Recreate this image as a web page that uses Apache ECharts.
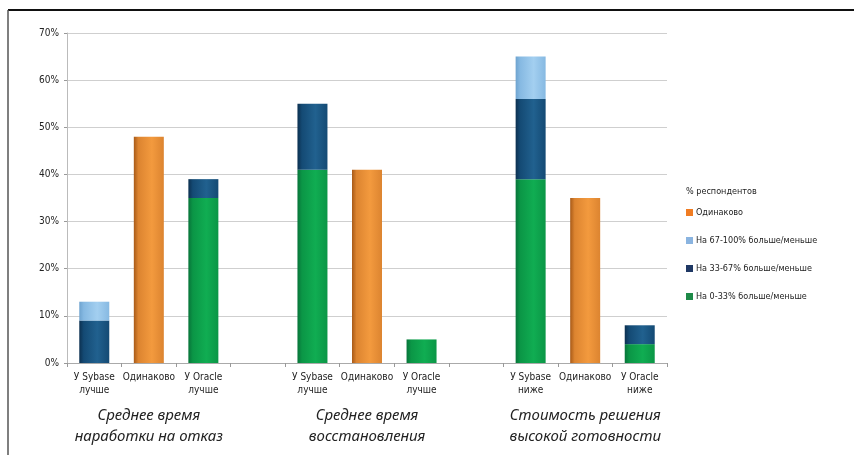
<!DOCTYPE html>
<html>
<head>
<meta charset="utf-8">
<script src="https://cdn.jsdelivr.net/npm/echarts@6/dist/echarts.min.js"></script>
<style>
  html, body { margin: 0; padding: 0; background: #fff; }
  #main { width: 854px; height: 455px; }
</style>
</head>
<body>
<div id="main"></div>
<script>
// категории (пустые — промежутки между группами)
var categories = ['У Sybase\nлучше', 'Одинаково', 'У Oracle\nлучше', '',
  'У Sybase\nлучше', 'Одинаково', 'У Oracle\nлучше', '',
  'У Sybase\nниже', 'Одинаково', 'У Oracle\nниже']
var groupTitles = ['', 'Среднее время\nнаработки на отказ', '', '',
  '', 'Среднее время\nвосстановления', '', '',
  '', 'Стоимость решения\nвысокой готовности', '']
var yTicks = [0, 10, 20, 30, 40, 50, 60, 70]

// % респондентов
var same = [null, 48, null, null, null, 41, null, null, null, 35, null]
var pct67to100 = [4, null, null, null, null, null, null, null, 9, null, null]
var pct33to67 = [9, null, 4, null, 14, null, null, null, 17, null, 4]
var pct0to33 = [null, null, 35, null, 41, null, 5, null, 39, null, 4]

var fontMain = '"Liberation Sans Narrow", "DejaVu Sans Condensed", "Noto Sans", sans-serif'

function cyl(dark, mid, light) {
  return new echarts.graphic.LinearGradient(0, 0, 1, 0, [
    { offset: 0, color: dark },
    { offset: 0.15, color: mid },
    { offset: 0.6, color: light },
    { offset: 1, color: mid }
  ])
}

var myChart = echarts.init(document.getElementById('main'))
var option = {
  animation: false,
  backgroundColor: '#fff',
  title: {
    text: '% респондентов',
    left: 686,
    top: 187,
    padding: 0,
    textStyle: { fontSize: 9, fontWeight: 'normal', color: '#222', fontFamily: fontMain }
  },
  legend: {
    orient: 'vertical',
    left: 686,
    top: 208,
    padding: 0,
    itemWidth: 7,
    itemHeight: 7,
    itemGap: 19,
    icon: 'rect',
    textStyle: { fontSize: 9, color: '#222', fontFamily: fontMain, padding: [0, 0, 0, -2] },
    data: [
      { name: 'Одинаково', itemStyle: { color: '#F07C22' } },
      { name: 'На 67-100% больше/меньше', itemStyle: { color: '#8AB4E0' } },
      { name: 'На 33-67% больше/меньше', itemStyle: { color: '#1F3864' } },
      { name: 'На 0-33% больше/меньше', itemStyle: { color: '#1E8A48' } }
    ]
  },
  grid: { left: 67, right: 187, top: 33, bottom: 92 },
  xAxis: [
    {
      type: 'category',
      data: categories,
      axisLine: { lineStyle: { color: '#aaa' } },
      axisTick: { show: true, length: 4, lineStyle: { color: '#999' } },
      axisLabel: {
        interval: 0, margin: 8, fontSize: 10, lineHeight: 13, color: '#222', fontFamily: fontMain
      }
    },
    {
      type: 'category',
      position: 'bottom',
      offset: 34,
      data: groupTitles,
      axisLine: { show: false },
      axisTick: { show: false },
      axisLabel: {
        interval: 0, margin: 8, fontSize: 15, lineHeight: 21, fontStyle: 'italic',
        color: '#222', fontFamily: '"Noto Sans", "Open Sans", sans-serif'
      }
    }
  ],
  yAxis: {
    type: 'value',
    min: yTicks[0],
    max: yTicks[yTicks.length - 1],
    interval: 10,
    axisLine: { show: true, lineStyle: { color: '#bbb' } },
    axisTick: { show: true, length: 3, lineStyle: { color: '#999' } },
    axisLabel: {
      formatter: '{value}%', margin: 8, fontSize: 10, color: '#222', fontFamily: fontMain
    },
    splitLine: { lineStyle: { color: '#cfcfcf' } }
  },
  series: [
    {
      name: 'На 0-33% больше/меньше',
      type: 'bar', stack: 'all', barWidth: 30, data: pct0to33,
      itemStyle: { color: cyl('#08743a', '#0b9646', '#10ad52') }
    },
    {
      name: 'На 33-67% больше/меньше',
      type: 'bar', stack: 'all', barWidth: 30, data: pct33to67,
      itemStyle: { color: cyl('#0c3050', '#144a74', '#21618f') }
    },
    {
      name: 'На 67-100% больше/меньше',
      type: 'bar', stack: 'all', barWidth: 30, data: pct67to100,
      itemStyle: { color: cyl('#6ea3cf', '#86b9e2', '#a3cff0') }
    },
    {
      name: 'Одинаково',
      type: 'bar', stack: 'all', barWidth: 30, data: same,
      itemStyle: { color: cyl('#a85a18', '#dc8430', '#f39a3e') }
    }
  ],
  graphic: [
    { type: 'line', shape: { x1: 8, y1: 10, x2: 854, y2: 10 }, style: { stroke: '#111', lineWidth: 2 } },
    { type: 'line', shape: { x1: 8, y1: 10, x2: 8, y2: 455 }, style: { stroke: '#555', lineWidth: 1.5 } }
  ]
}
myChart.setOption(option)
</script>
</body>
</html>
